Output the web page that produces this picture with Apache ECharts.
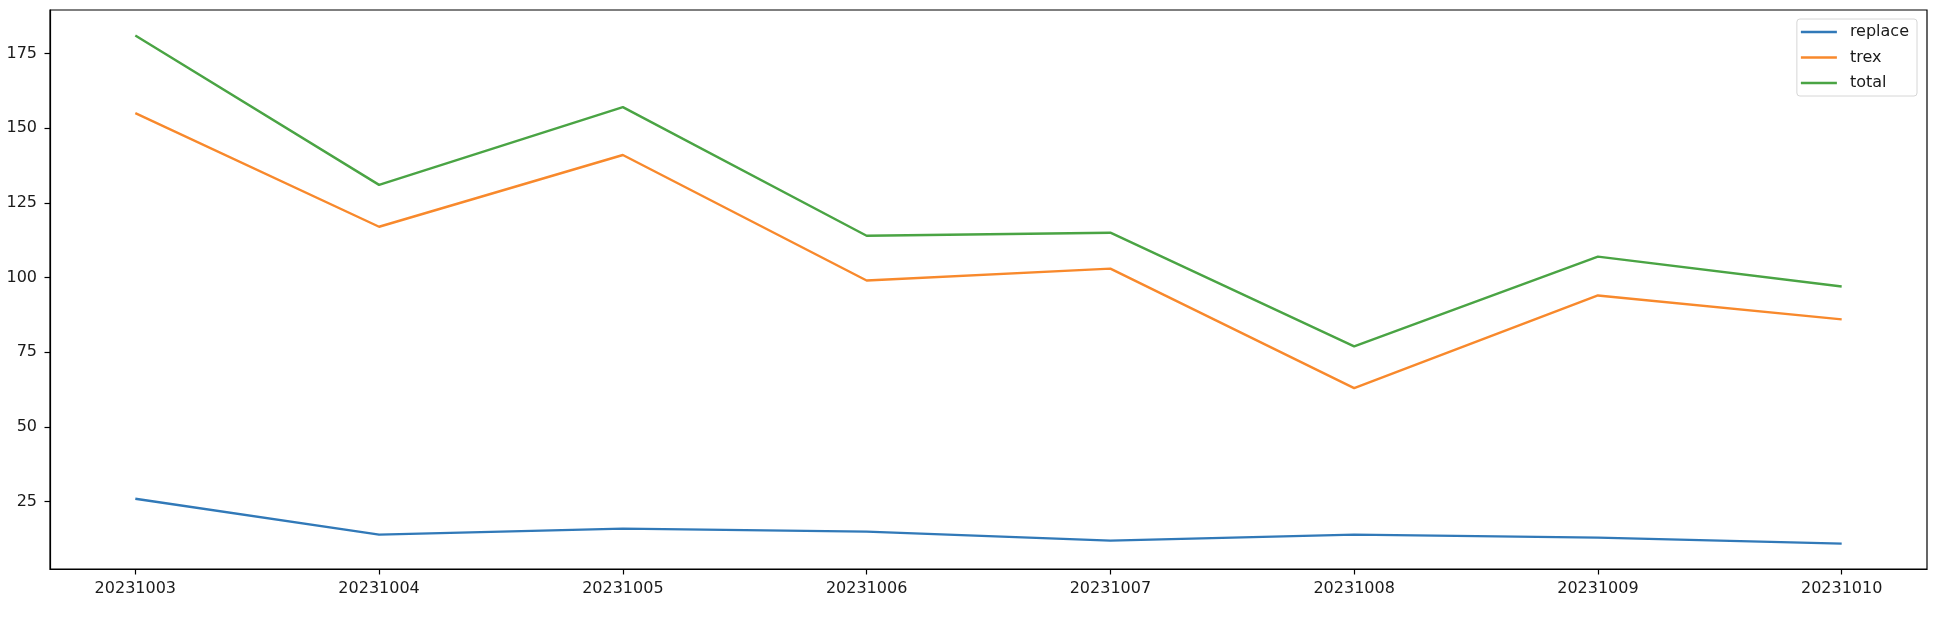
<!DOCTYPE html>
<html>
<head>
<meta charset="utf-8">
<script src="https://cdn.jsdelivr.net/npm/echarts@6/dist/echarts.min.js"></script>
<style>
  html, body { margin: 0; padding: 0; background: #fff; }
  #chart { width: 1938px; height: 620px; }
</style>
</head>
<body>
<div id="chart"></div>
<script>
// data
var categories = ['20231003', '20231004', '20231005', '20231006', '20231007', '20231008', '20231009', '20231010'];
var replace = [26, 14, 16, 15, 12, 14, 13, 11];
var trex = [155, 117, 141, 99, 103, 63, 94, 86];
var total = [181, 131, 157, 114, 115, 77, 107, 97];
var yTicks = [25, 50, 75, 100, 125, 150, 175];

var xIdx = categories.map(function (c, i) { return i; });
var toPairs = function (arr) {
    return arr.map(function (v, i) { return [i, v]; });
};

var chart = echarts.init(document.getElementById('chart'));
var font = 'DejaVu Sans';
// plain line as legend handle
var lineIcon = 'path://M0,0 L36,0 L36,2.4 L0,2.4 Z';

var mkSeries = function (name, data, color) {
    return {
        name: name,
        type: 'line',
        data: toPairs(data),
        symbol: 'none',
        lineStyle: { color: color, width: 2.4 },
        itemStyle: { color: color },
        animation: false
    };
};

chart.setOption({
    animation: false,
    backgroundColor: '#fff',
    grid: {
        left: 50,
        right: 11,
        top: 10,
        bottom: 51,
        show: true,
        borderColor: '#000',
        borderWidth: 1.2,
        outerBoundsMode: 'none'
    },
    legend: {
        orient: 'vertical',
        right: 21,
        top: 19,
        padding: [5, 8, 5, 4],
        itemWidth: 36,
        itemHeight: 16,
        itemGap: 9.5,
        icon: lineIcon,
        backgroundColor: 'rgba(255,255,255,0.8)',
        borderColor: '#d6d6d6',
        borderWidth: 1,
        borderRadius: 3,
        textStyle: { fontFamily: font, fontSize: 16, color: '#1a1a1a', padding: [0, 0, 0, 8] },
        data: ['replace', 'trex', 'total']
    },
    xAxis: {
        type: 'value',
        min: -0.35,
        max: 7.35,
        axisLine: { show: true, onZero: false, lineStyle: { color: '#000', width: 1.2 } },
        axisTick: { show: true, length: 5.5, customValues: xIdx, lineStyle: { color: '#000', width: 1.2 } },
        axisLabel: {
            customValues: xIdx,
            margin: 12,
            fontFamily: font,
            fontSize: 16,
            color: '#1a1a1a',
            formatter: function (v) { return categories[v]; }
        },
        splitLine: { show: false }
    },
    yAxis: {
        type: 'value',
        min: 2.5,
        max: 189.5,
        axisLine: { show: true, onZero: false, lineStyle: { color: '#000', width: 1.2 } },
        axisTick: { show: true, length: 5.5, customValues: yTicks, lineStyle: { color: '#000', width: 1.2 } },
        axisLabel: {
            customValues: yTicks,
            margin: 13,
            fontFamily: font,
            fontSize: 16,
            color: '#1a1a1a'
        },
        splitLine: { show: false }
    },
    series: [
        mkSeries('replace', replace, '#3179b8'),
        mkSeries('trex', trex, '#f8892c'),
        mkSeries('total', total, '#4aa444')
    ]
});
</script>
</body>
</html>
